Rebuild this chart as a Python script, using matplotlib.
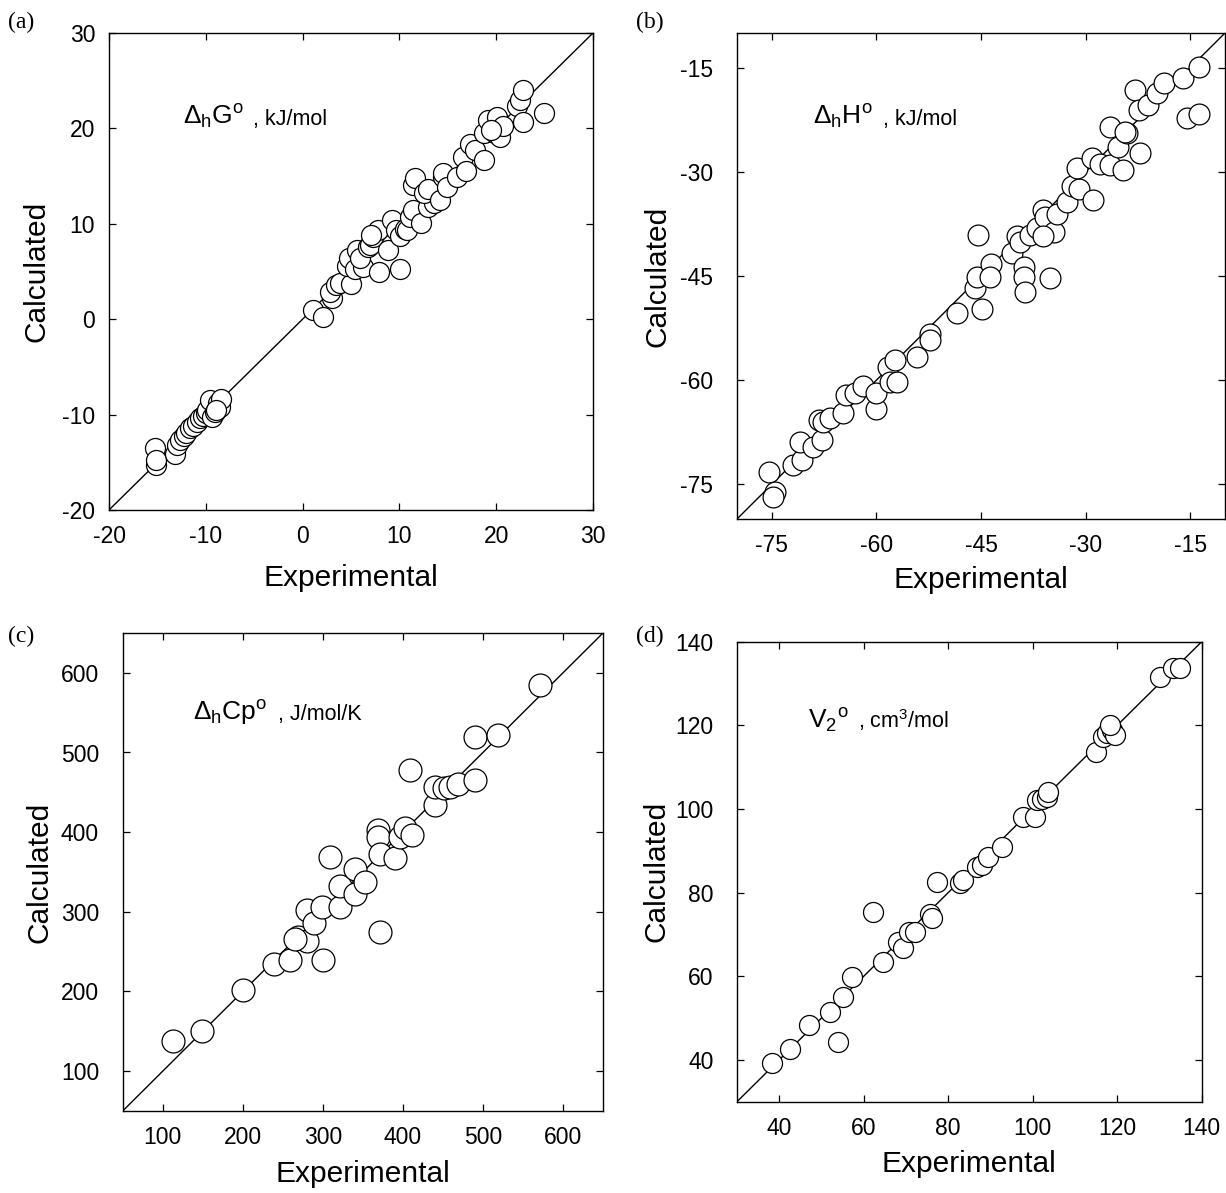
import matplotlib
matplotlib.use("Agg")
import matplotlib.pyplot as plt

plt.rcParams['font.family'] = ['Liberation Sans', 'DejaVu Sans']
plt.rcParams['mathtext.fontset'] = 'custom'
plt.rcParams['mathtext.rm'] = 'Liberation Sans'
plt.rcParams['mathtext.it'] = 'Liberation Sans:italic'
plt.rcParams['mathtext.bf'] = 'Liberation Sans:bold'
plt.rcParams['axes.unicode_minus'] = False

# (a) Gibbs energy of hydration, kJ/mol
g_exp = [-15.2, -15.1, -15.1, -13.2, -13.0, -12.7, -12.3, -12.0, -11.6, -11.3,
         -10.9, -10.6, -10.3, -10.0, -9.9, -9.6, -9.4, -9.0, -8.7, -8.5, -8.4, -8.9,
         1.1, 2.1, 3.0, 2.8, 3.4, 3.9, 5.0, 4.6, 4.8, 5.6, 5.4, 6.2, 5.9, 6.8, 7.0,
         7.3, 7.8, 7.1, 7.9, 8.8, 9.2, 9.7, 10.1, 10.1, 10.6, 10.8, 11.1, 11.4, 12.2,
         13.0, 13.6, 11.4, 11.6, 12.5, 13.0, 14.2, 14.5, 14.5, 14.9, 15.9, 16.6,
         16.9, 17.3, 17.8, 18.7, 18.7, 19.2, 19.9, 20.1, 20.4, 20.7, 19.5, 22.1,
         22.5, 22.8, 22.8, 24.9]
g_calc = [-13.5, -15.3, -14.8, -14.1, -13.2, -12.7, -12.2, -11.9, -11.4, -11.2,
          -10.8, -10.4, -10.1, -9.8, -9.5, -8.5, -10.2, -9.7, -8.8, -9.2, -8.4, -9.5,
          1.0, 0.2, 2.2, 2.9, 3.6, 3.8, 3.7, 5.6, 6.4, 7.3, 5.3, 5.5, 6.4, 7.6, 7.8,
          8.6, 9.4, 8.8, 5.0, 7.3, 10.4, 9.4, 8.7, 5.3, 9.5, 9.4, 10.7, 11.4, 10.1,
          11.8, 12.2, 14.1, 14.8, 13.2, 13.7, 12.5, 14.9, 15.3, 13.9, 14.9, 17.0,
          15.5, 18.4, 17.7, 16.7, 19.5, 20.9, 19.5, 21.2, 19.1, 20.2, 19.8, 22.3,
          23.0, 24.0, 20.7, 21.6]

# (b) enthalpy of hydration, kJ/mol
h_exp = [-75.4, -74.5, -74.8, -71.9, -70.7, -70.9, -69.1, -67.8, -68.3, -67.7,
         -66.7, -64.8, -64.3, -63.1, -61.9, -60.0, -60.0, -58.3, -57.3, -58.1,
         -57.1, -54.2, -52.3, -52.3, -48.5, -45.9, -45.6, -44.9, -45.4, -43.5,
         -43.7, -40.6, -39.9, -38.9, -38.9, -38.7, -39.4, -38.0, -37.0, -36.1,
         -35.8, -34.6, -35.1, -36.1, -34.1, -32.7, -32.0, -31.0, -31.3, -28.9,
         -29.1, -27.9, -26.5, -24.6, -26.5, -25.3, -24.1, -24.3, -22.2, -22.9,
         -22.4, -21.0, -19.8, -18.8, -16.0, -13.8, -15.5, -13.8]
h_calc = [-73.2, -76.1, -76.8, -72.2, -71.5, -68.9, -69.6, -68.6, -65.7, -66.0,
          -65.5, -64.8, -62.1, -61.9, -60.9, -64.1, -61.9, -58.1, -57.1, -60.2,
          -60.2, -56.6, -53.3, -54.2, -50.4, -46.8, -45.1, -49.7, -39.1, -43.2,
          -45.1, -41.7, -39.3, -43.7, -45.1, -47.3, -40.1, -39.1, -38.1, -35.5,
          -36.5, -38.6, -45.3, -39.3, -36.0, -34.3, -32.1, -32.4, -29.5, -34.1,
          -28.0, -28.8, -29.0, -29.7, -23.5, -26.4, -24.4, -24.2, -27.3, -18.2,
          -21.1, -20.4, -18.7, -17.2, -16.5, -14.9, -22.3, -21.6]

# (c) heat capacity of hydration, J/mol/K
cp_exp = [113, 149, 200, 239, 259, 300, 269, 280, 265, 280, 289, 299, 321, 322,
          340, 340, 353, 309, 369, 369, 371, 371, 390, 397, 403, 411, 409, 440,
          440, 451, 459, 469, 490, 490, 519, 571]
cp_calc = [138, 151, 202, 235, 240, 240, 268, 263, 266, 302, 286, 306, 306, 332,
           323, 354, 338, 369, 403, 394, 373, 275, 367, 394, 405, 396, 478, 434,
           457, 455, 457, 461, 465, 520, 522, 585]

# (d) partial molar volume, cm3/mol
v_exp = [38.2, 42.5, 47.1, 52.0, 54.0, 55.2, 57.2, 62.1, 64.5, 68.2, 69.4, 70.6,
         72.1, 75.7, 76.1, 77.3, 82.8, 83.6, 86.7, 87.9, 89.3, 92.7, 97.8, 100.5,
         100.9, 102.1, 103.3, 103.7, 115.0, 116.7, 117.5, 118.7, 119.5, 118.3,
         130.1, 133.3, 134.9]
v_calc = [39.3, 42.5, 48.3, 51.5, 44.3, 55.1, 59.9, 75.4, 63.5, 68.3, 66.7, 70.7,
          70.7, 75.0, 73.9, 82.6, 82.4, 83.0, 86.2, 86.6, 88.4, 91.0, 98.2, 98.2,
          102.1, 102.5, 102.9, 104.1, 113.7, 117.3, 118.1, 118.9, 117.7, 120.1,
          131.6, 133.6, 133.6]

W, H = 1226, 1193
fig = plt.figure(figsize=(W / 100, H / 100), dpi=100)


def add_panel(box, exp, calc, lim, ticks, msize, title, units, tpos, upos,
              xl, yl, ypad, letter, lpos):
    l, t, r, b = box
    ax = fig.add_axes([l / W, 1 - b / H, (r - l) / W, (b - t) / H])
    ax.plot(lim, lim, color='black', lw=1.0)
    ax.plot(exp, calc, 'o', ms=msize, mfc='white', mec='black', mew=0.9,
            linestyle='none')
    ax.set_xlim(lim)
    ax.set_ylim(lim)
    ax.set_xticks(ticks)
    ax.set_yticks(ticks)
    ax.tick_params(direction='in', length=5, width=0.9, top=True, right=True,
                   labelsize=16.5, color='black')
    ax.tick_params(axis='x', pad=11)
    ax.tick_params(axis='y', pad=ypad)
    for s in ax.spines.values():
        s.set_linewidth(1.0)
    ax.set_xlabel('Experimental', fontsize=21.5)
    ax.set_ylabel('Calculated', fontsize=21.5)
    ax.xaxis.label.set_va('center')
    ax.yaxis.label.set_va('center')
    ax.xaxis.set_label_coords(0.5, xl)
    ax.yaxis.set_label_coords(yl, 0.5)
    ax.text(tpos[0], tpos[1], title, transform=ax.transAxes, fontsize=19,
            va='baseline')
    ax.text(upos[0], upos[1], units, transform=ax.transAxes, fontsize=15.5,
            va='baseline')
    fig.text(lpos[0] / W, 1 - lpos[1] / H, letter, family='Liberation Serif',
             fontsize=17, ha='left', va='top')
    return ax


add_panel((109, 33, 593, 510), g_exp, g_calc, (-20, 30), range(-20, 31, 10),
          14.4, r'$\Delta_{\rm h}$G$^{\rm o}$', ', kJ/mol', (0.153, 0.807),
          (0.297, 0.807), -0.143, -0.149, 10, '(a)', (8, 12))
add_panel((737, 33, 1225, 519), h_exp, h_calc, (-80, -10), range(-75, -14, 15),
          15.0, r'$\Delta_{\rm h}$H$^{\rm o}$', ', kJ/mol', (0.156, 0.811),
          (0.2985, 0.811), -0.125, -0.162, 17, '(b)', (636, 12))
add_panel((122.7, 633, 603, 1111), cp_exp, cp_calc, (50, 650), range(100, 601, 100),
          16.5, r'$\Delta_{\rm h}$Cp$^{\rm o}$', ', J/mol/K', (0.147, 0.818),
          (0.3226, 0.818), -0.131, -0.174, 17, '(c)', (8, 626))
add_panel((737, 641.7, 1201.7, 1101.7), v_exp, v_calc, (30, 140), range(40, 141, 20),
          14.4, r'V$_{\rm 2}$$^{\rm o}$', r', cm$^{3}$/mol', (0.153, 0.812),
          (0.2596, 0.812), -0.136, -0.174, 17, '(d)', (636, 626))

fig.savefig('out.png', dpi=100)
